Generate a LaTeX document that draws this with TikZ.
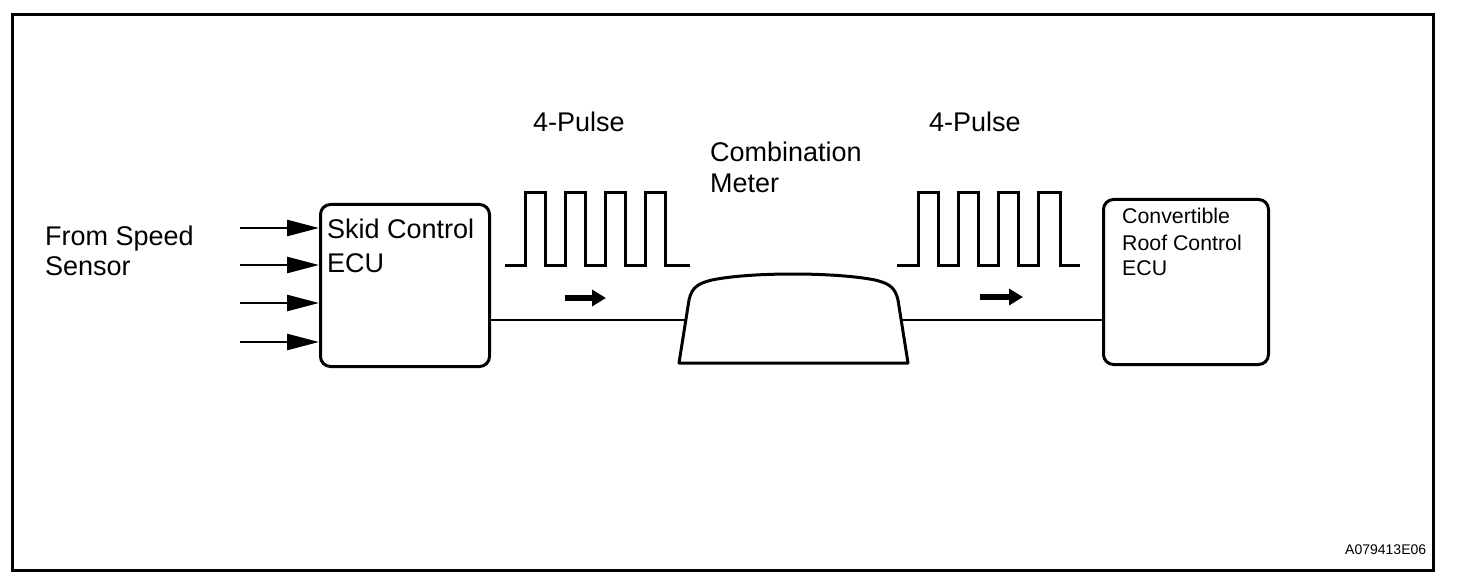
\documentclass[tikz,border=0pt]{standalone}
\usepackage{fontspec}
\setmainfont{Liberation Sans}
\usetikzlibrary{arrows.meta}
\begin{document}
\begin{tikzpicture}[x=1pt,y=-1pt,
  frame/.style={line width=3pt},
  ecubox/.style={draw,line width=3pt,rounded corners=10pt,inner sep=0pt,anchor=north west},
  bigtxt/.style={anchor=base west,inner sep=0pt,font=\fontsize{27}{31}\selectfont},
  midtxt/.style={anchor=base west,inner sep=0pt,font=\fontsize{21.3}{25}\selectfont},
  smalltxt/.style={anchor=base west,inner sep=0pt,font=\fontsize{14}{16}\selectfont},
  inarrow/.style={line width=2.6pt,-{Triangle[length=32pt,width=16pt]}},
  dirarrow/.style={line width=6.5pt,-{Triangle[length=14pt,width=16pt]}},
  pulse/.style={line width=3pt,line join=miter},
  wire/.style={line width=2pt},
  meter/.style={line width=3pt,line join=round}]
\useasboundingbox (0,0) rectangle (1472,580);
\draw[frame] (12,15) rectangle (1433,570);

% boxes
\node[ecubox,minimum width=169pt,minimum height=162pt] (skid) at (319,203) {};
\node[ecubox,minimum width=165pt,minimum height=165pt] (conv) at (1102,198) {};

% texts
\node[bigtxt] (fs1) at (45,245) {From Speed};
\node[bigtxt] (fs2) at (45,275) {Sensor};
\node[bigtxt] (sk1) at (327,238) {Skid Control};
\node[bigtxt] (sk2) at (327,272) {ECU};
\node[bigtxt] (p1) at (533,132) {4-Pulse};
\node[bigtxt] (p2) at (929,132) {4-Pulse};
\node[bigtxt] (cm1) at (710,162) {Combination};
\node[bigtxt] (cm2) at (710,193) {Meter};
\node[midtxt] (cv1) at (1122,223) {Convertible};
\node[midtxt] (cv2) at (1122,250) {Roof Control};
\node[midtxt] (cv3) at (1122,275) {ECU};
\node[smalltxt] (code) at (1345,554) {A079413E06};

% input arrows
\coordinate (in1) at (240,228);
\coordinate (in2) at (240,265);
\coordinate (in3) at (240,303);
\coordinate (in4) at (240,342);
\foreach \i in {1,2,3,4} \draw[inarrow] (in\i) -- (in\i -| skid.west);

% pulses
\draw[pulse] (505,265) -- (525,265) -- (525,193) -- (545,193) -- (545,265)
  -- (565,265) -- (565,193) -- (585,193) -- (585,265)
  -- (605,265) -- (605,193) -- (625,193) -- (625,265)
  -- (645,265) -- (645,193) -- (665,193) -- (665,265) -- (690,265);
\draw[pulse] (897,265) -- (918,265) -- (918,193) -- (938,193) -- (938,265)
  -- (958,265) -- (958,193) -- (978,193) -- (978,265)
  -- (998,265) -- (998,193) -- (1018,193) -- (1018,265)
  -- (1038,265) -- (1038,193) -- (1060,193) -- (1060,265) -- (1080,265);

% direction arrows
\coordinate (d1a) at (565,298);
\coordinate (d1b) at (606,298);
\coordinate (d2a) at (980,297);
\coordinate (d2b) at (1023,297);
\draw[dirarrow] (d1a) -- (d1b);
\draw[dirarrow] (d2a) -- (d2b);

% combination meter
\draw[meter] (679,363) -- (689,300) .. controls (692,286) and (700,283) .. (712,280)
  .. controls (750,272) and (835,272) .. (875,280)
  .. controls (887,283) and (895,286) .. (898,300) -- (908,363) -- cycle;
\coordinate (ml) at (686,320);
\coordinate (mr) at (901,320);

% wires
\draw[wire] (skid.east |- ml) -- (ml);
\draw[wire] (mr) -- (mr -| conv.west);
\end{tikzpicture}
\end{document}
